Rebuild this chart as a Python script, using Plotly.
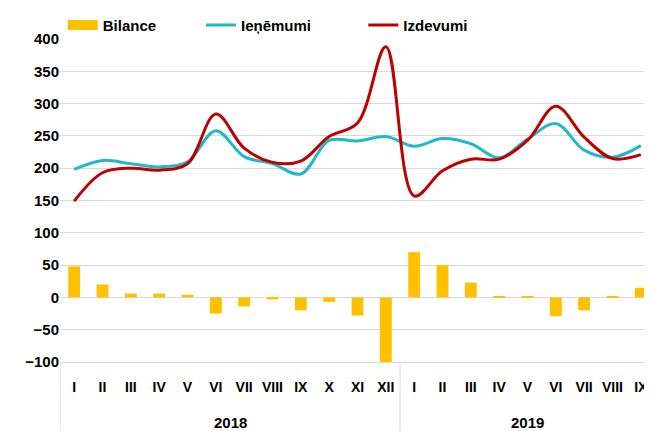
import plotly.graph_objects as go

# months and years for the category axis
months = ["I", "II", "III", "IV", "V", "VI", "VII", "VIII", "IX", "X", "XI", "XII",
          "I", "II", "III", "IV", "V", "VI", "VII", "VIII", "IX"]
year_labels = ["2018", "2019"]
year_counts = [12, 9]

bilance = [48, 20, 6, 6, 4, -25, -14, -3, -20, -7, -28, -139,
           70, 50, 23, 2, 2, -29, -20, 2, 15]
ienemumi = [198, 212, 207, 202, 210, 258, 218, 207, 191, 243, 242, 249,
            234, 246, 238, 216, 245, 269, 228, 217, 235]
izdevumi = [149, 193, 200, 197, 207, 284, 231, 209, 211, 249, 270, 388,
            157, 196, 214, 214, 243, 296, 248, 215, 221]

idx = list(range(len(months)))

fig = go.Figure()
fig.add_trace(go.Bar(x=idx, y=bilance, name="Bilance", marker_color="#FFC000",
                     marker_line_width=0, showlegend=False))
# legend-only entry so the swatch looks like the wide Excel rectangle
fig.add_trace(go.Scatter(x=[None], y=[None], name="Bilance", mode="lines",
                         line=dict(color="#FFC000", width=12), legend="legend"))
fig.add_trace(go.Scatter(x=idx, y=ienemumi, name="Ieņēmumi", mode="lines",
                         line=dict(color="#22B8C8", width=3, shape="spline", smoothing=1),
                         legend="legend2"))
fig.add_trace(go.Scatter(x=idx, y=izdevumi, name="Izdevumi", mode="lines",
                         line=dict(color="#C00000", width=3, shape="spline", smoothing=1),
                         legend="legend3"))

# year group labels and divider lines under the axis
start = 0
bounds = [-0.5]
for lab, n in zip(year_labels, year_counts):
    fig.add_annotation(x=start + (n - 1) / 2, y=-0.186, xref="x", yref="paper",
                       text=lab, showarrow=False, yanchor="middle",
                       font=dict(size=15, color="#000000", weight="bold"))
    start += n
    bounds.append(start - 0.5)
for b in bounds:
    fig.add_shape(type="line", x0=b, x1=b, y0=0, y1=-0.25, xref="x", yref="paper",
                  line=dict(color="#D9D9D9", width=1))

leg = dict(orientation="h", xref="container", yref="container", yanchor="middle", y=0.96,
           xanchor="left", bgcolor="rgba(0,0,0,0)",
           font=dict(size=15, color="#000000", weight="bold"),
           itemwidth=30, tracegroupgap=0)

# page body has an 8px margin, so the margins are trimmed by that much
fig.update_layout(
    width=652, height=431,
    margin=dict(l=52, r=5, t=31, b=77, autoexpand=False),
    paper_bgcolor="white", plot_bgcolor="white",
    font=dict(family="Liberation Sans Narrow, Arial Narrow, Liberation Sans, Arial",
              size=14, color="#000000", weight="bold"),
    bargap=0.58,
    showlegend=True,
    legend=dict(leg, x=0.084),
    legend2=dict(leg, x=0.296),
    legend3=dict(leg, x=0.545),
    yaxis=dict(range=[-100, 400], dtick=50, showgrid=True, gridcolor="#D9D9D9",
               gridwidth=1, zeroline=True, zerolinecolor="#D9D9D9", zerolinewidth=1,
               showline=False, ticks="", tickfont=dict(size=15)),
    xaxis=dict(range=[-0.5, len(months) - 0.5], tickmode="array", tickvals=idx,
               ticktext=months, showgrid=False, zeroline=False,
               showline=True, linecolor="#D9D9D9",
               ticks="outside", ticklen=12, tickcolor="rgba(0,0,0,0)",
               tickangle=0, tickfont=dict(size=14)),
)

fig.write_html("out.html")
